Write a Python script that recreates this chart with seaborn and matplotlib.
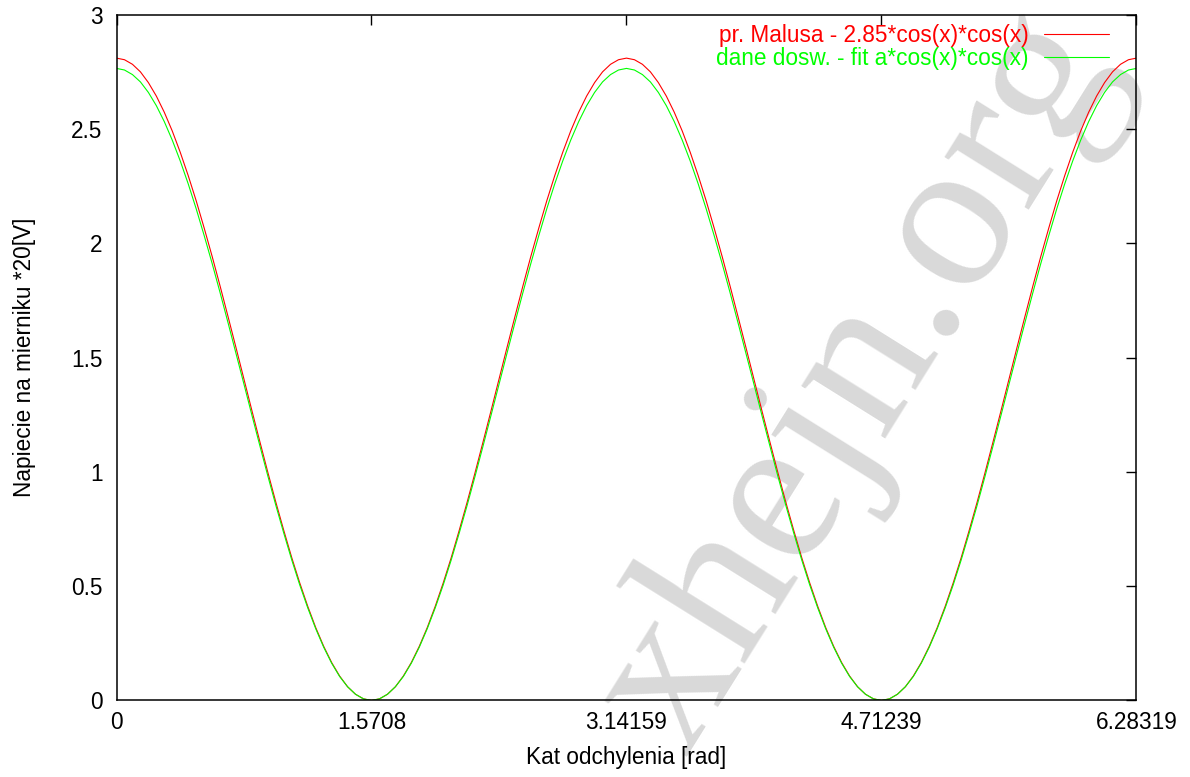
import numpy as np
import pandas as pd
import seaborn as sns
import matplotlib.pyplot as plt

# kat odchylenia [rad], probkowany co pi/64
kat = np.linspace(0, 2 * np.pi, 129)

# pr. Malusa (czerwona krzywa), odczyt z wykresu
malus = [2.810, 2.803, 2.783, 2.750, 2.703, 2.644, 2.573, 2.491, 2.398, 2.296, 2.186, 2.067, 1.943, 1.813, 1.679, 1.543,
         1.405, 1.267, 1.131, 0.997, 0.867, 0.743, 0.624, 0.514, 0.412, 0.319, 0.237, 0.166, 0.107, 0.060, 0.027, 0.007, 0.000,
         0.007, 0.027, 0.060, 0.107, 0.166, 0.237, 0.319, 0.412, 0.514, 0.624, 0.743, 0.867, 0.997, 1.131, 1.267, 1.405,
         1.543, 1.679, 1.813, 1.943, 2.067, 2.186, 2.296, 2.398, 2.491, 2.573, 2.644, 2.703, 2.750, 2.783, 2.803, 2.810,
         2.803, 2.783, 2.750, 2.703, 2.644, 2.573, 2.491, 2.398, 2.296, 2.186, 2.067, 1.943, 1.813, 1.679, 1.543,
         1.405, 1.267, 1.131, 0.997, 0.867, 0.743, 0.624, 0.514, 0.412, 0.319, 0.237, 0.166, 0.107, 0.060, 0.027, 0.007, 0.000,
         0.007, 0.027, 0.060, 0.107, 0.166, 0.237, 0.319, 0.412, 0.514, 0.624, 0.743, 0.867, 0.997, 1.131, 1.267, 1.405,
         1.543, 1.679, 1.813, 1.943, 2.067, 2.186, 2.296, 2.398, 2.491, 2.573, 2.644, 2.703, 2.750, 2.783, 2.803, 2.810]

# dane doswiadczalne - fit (zielona krzywa)
dosw = [2.765, 2.758, 2.738, 2.706, 2.660, 2.602, 2.532, 2.451, 2.360, 2.260, 2.151, 2.034, 1.912, 1.784, 1.652, 1.518,
        1.383, 1.247, 1.113, 0.981, 0.853, 0.731, 0.614, 0.505, 0.405, 0.314, 0.233, 0.163, 0.105, 0.060, 0.027, 0.007, 0.000,
        0.007, 0.027, 0.060, 0.105, 0.163, 0.233, 0.314, 0.405, 0.505, 0.614, 0.731, 0.853, 0.981, 1.113, 1.247, 1.383,
        1.518, 1.652, 1.784, 1.912, 2.034, 2.151, 2.260, 2.360, 2.451, 2.532, 2.602, 2.660, 2.706, 2.738, 2.758, 2.765,
        2.758, 2.738, 2.706, 2.660, 2.602, 2.532, 2.451, 2.360, 2.260, 2.151, 2.034, 1.912, 1.784, 1.652, 1.518,
        1.383, 1.247, 1.113, 0.981, 0.853, 0.731, 0.614, 0.505, 0.405, 0.314, 0.233, 0.163, 0.105, 0.060, 0.027, 0.007, 0.000,
        0.007, 0.027, 0.060, 0.105, 0.163, 0.233, 0.314, 0.405, 0.505, 0.614, 0.731, 0.853, 0.981, 1.113, 1.247, 1.383,
        1.518, 1.652, 1.784, 1.912, 2.034, 2.151, 2.260, 2.360, 2.451, 2.532, 2.602, 2.660, 2.706, 2.738, 2.758, 2.765]

x_ticks = [0, 1.5708, 3.14159, 4.71239, 6.28319]
x_labels = ["0", "1.5708", "3.14159", "4.71239", "6.28319"]
y_ticks = [0, 0.5, 1, 1.5, 2, 2.5, 3]
y_labels = ["0", "0.5", "1", "1.5", "2", "2.5", "3"]
names = ["pr. Malusa - 2.85*cos(x)*cos(x)", "dane dosw. - fit a*cos(x)*cos(x)"]
colors = ["#ff0000", "#00ff00"]

sns.set_theme(style="white")
plt.rcParams["font.family"] = ["Liberation Sans", "DejaVu Sans"]
plt.rcParams.update({"text.color": "black", "axes.labelcolor": "black",
                     "xtick.color": "black", "ytick.color": "black",
                     "axes.edgecolor": "black", "font.size": 16.3})

fig = plt.figure(figsize=(11.9, 7.77), dpi=100)
ax = fig.add_axes([0.0979, 0.0985, 0.8571, 0.8826])
ax.patch.set_visible(False)

# znak wodny pod wykresem
fig.text(0.722, 0.508, "xhejn.org", family=["Liberation Serif"], size=156,
         color="#d9d9d9", rotation=58, ha="center", va="center", zorder=-1)

df = pd.DataFrame({"kat": kat, "malus": malus, "dosw": dosw})
sns.lineplot(data=df, x="kat", y="malus", color=colors[0], lw=0.8, label=names[0], ax=ax)
sns.lineplot(data=df, x="kat", y="dosw", color=colors[1], lw=0.8, label=names[1], ax=ax)

ax.set_xlim(0, 6.28319)
ax.set_ylim(0, 3)
ax.set_xticks(x_ticks, x_labels)
ax.set_yticks(y_ticks, y_labels)
ax.tick_params(direction="in", length=7.5, width=1.0, top=True, right=True, labelsize=16.3)
ax.tick_params(axis="x", pad=7.5)
ax.tick_params(axis="y", pad=10)
for s in ax.spines.values():
    s.set_visible(True)
    s.set_color("black")
    s.set_linewidth(1.1)

ax.set_xlabel("Kat odchylenia [rad]", fontsize=16.3)
ax.xaxis.set_label_coords(0.5, -(758 - 700.5) / 685.8)
ax.xaxis.label.set_va("center")
ax.set_ylabel("Napiecie na mierniku *20[V]", fontsize=16.3)
ax.yaxis.set_label_coords((24 - 116.5) / 1020, 0.5)
ax.yaxis.label.set_va("center")

leg = ax.legend(loc="upper right", bbox_to_anchor=(0.973, 0.987), borderaxespad=0, borderpad=0,
                frameon=False, markerfirst=False, handlelength=2.88, handletextpad=0.66,
                labelspacing=0.02, fontsize=16.3)
for t, c in zip(leg.get_texts(), colors):
    t.set_color(c)

fig.savefig("out.png", dpi=100)
